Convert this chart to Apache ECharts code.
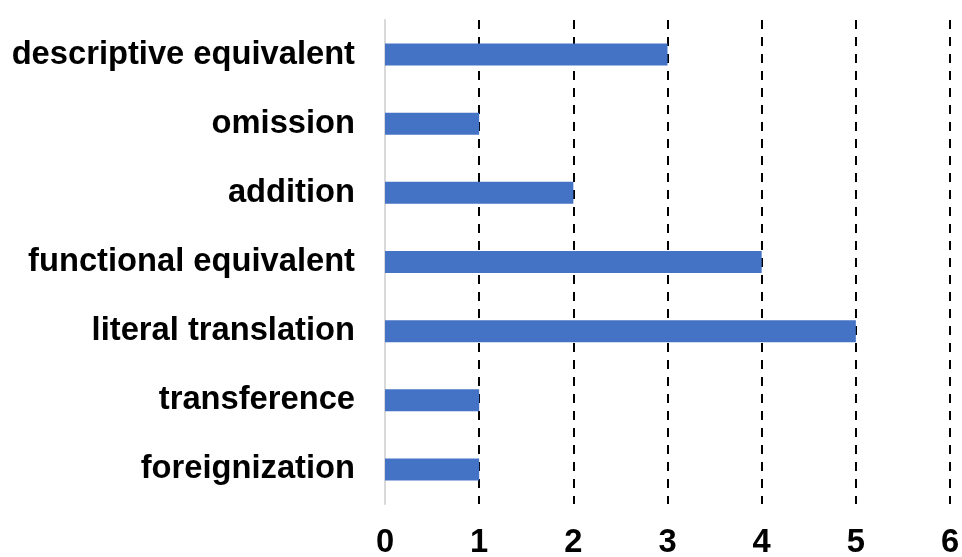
<!DOCTYPE html>
<html>
<head>
<meta charset="utf-8">
<script src="https://cdn.jsdelivr.net/npm/echarts@6/dist/echarts.min.js"></script>
<style>
  html, body { margin: 0; padding: 0; background: #fff; }
  #chart { width: 962px; height: 557px; }
</style>
</head>
<body>
<div id="chart"></div>
<script>
// Translation strategies (bottom to top on the category axis)
const categories = [
  'foreignization',
  'transference',
  'literal translation',
  'functional equivalent',
  'addition',
  'omission',
  'descriptive equivalent'
];
const counts = [1, 1, 5, 4, 2, 1, 3];
const xTicks = [0, 1, 2, 3, 4, 5, 6];

const FONT = '"Liberation Sans", Arial, Helvetica, sans-serif';

const chart = echarts.init(document.getElementById('chart'));
chart.setOption({
  animation: false,
  grid: {
    left: 385, right: 12, top: 20, bottom: 53,
    containLabel: false,
    outerBoundsMode: 'none'
  },
  xAxis: {
    type: 'value',
    min: xTicks[0],
    max: xTicks[xTicks.length - 1],
    interval: 1,
    axisLine: { show: false },
    axisTick: { show: false },
    axisLabel: {
      margin: 22,
      fontFamily: FONT,
      fontWeight: 'bold',
      fontSize: 32.7,
      color: '#000'
    },
    splitLine: {
      show: true,
      lineStyle: { color: '#000', width: 2, type: [9, 8] }
    }
  },
  yAxis: {
    type: 'category',
    data: categories,
    axisLine: { show: true, lineStyle: { color: '#d9d9d9', width: 2 } },
    axisTick: { show: false },
    axisLabel: {
      margin: 30,
      fontFamily: FONT,
      fontWeight: 'bold',
      fontSize: 32.7,
      color: '#000'
    }
  },
  series: [{
    type: 'bar',
    data: counts,
    barWidth: 22,
    itemStyle: { color: '#4472C4' },
    z: 1
  }]
});
</script>
</body>
</html>
